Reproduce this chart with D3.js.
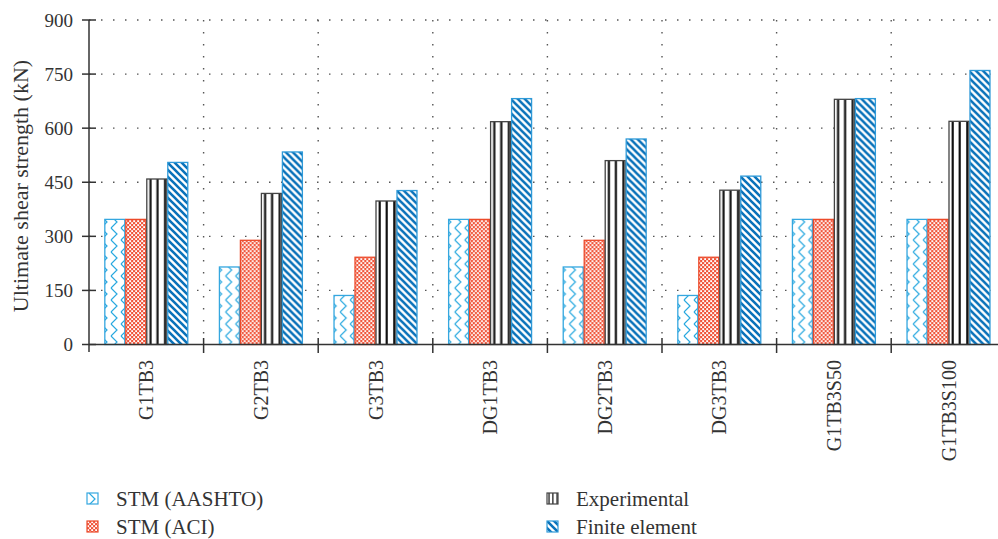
<!DOCTYPE html>
<html>
<head>
<meta charset="utf-8">
<script src="https://cdn.jsdelivr.net/npm/d3@7"></script>
<style>
  html, body { margin: 0; padding: 0; background: #fff; }
  svg { display: block; }
</style>
</head>
<body>
<script>
// Specimens and the four strength estimates (kN)
const categories = ["G1TB3", "G2TB3", "G3TB3", "DG1TB3", "DG2TB3", "DG3TB3", "G1TB3S50", "G1TB3S100"];
const seriesNames = ["STM (AASHTO)", "STM (ACI)", "Experimental", "Finite element"];
const stmAashto    = [347, 215, 136, 347, 215, 136, 347, 347];
const stmAci       = [347, 289, 242, 347, 289, 242, 347, 347];
const experimental = [459, 419, 398, 618, 510, 428, 680, 619];
const finiteElement = [505, 534, 427, 682, 570, 467, 682, 760];
const yTicks = [0, 150, 300, 450, 600, 750, 900];

const seriesValues = [stmAashto, stmAci, experimental, finiteElement];
const patternIds = ["pat-aashto", "pat-aci", "pat-exp", "pat-fe"];
const borderColors = ["#35a7df", "#ec4a2a", "#444", "#2f9ad8"];

const FONT = '"Liberation Serif", "Times New Roman", serif';
const TEXT = "#333";

const W = 998, H = 539;
const svg = d3.select("body").append("svg").attr("width", W).attr("height", H);

// ---- fill patterns ----
const defs = svg.append("defs");

// chevron hatching in light blue
const pA = defs.append("pattern").attr("id", "pat-aashto")
  .attr("patternUnits", "userSpaceOnUse").attr("width", 10).attr("height", 12);
pA.append("rect").attr("width", 10).attr("height", 12).attr("fill", "#fff");
pA.append("path").attr("d", "M2,0 L8,6 L2,12").attr("fill", "none")
  .attr("stroke", "#29a9e0").attr("stroke-width", 1.2);

// dense red check
const pB = defs.append("pattern").attr("id", "pat-aci")
  .attr("patternUnits", "userSpaceOnUse").attr("width", 4).attr("height", 4);
pB.append("rect").attr("width", 4).attr("height", 4).attr("fill", "#f0553a");
pB.append("rect").attr("x", 0.2).attr("y", 0.2).attr("width", 1.9).attr("height", 1.9).attr("fill", "#fff");
pB.append("rect").attr("x", 2.2).attr("y", 2.2).attr("width", 1.9).attr("height", 1.9).attr("fill", "#fff");

// vertical black bars inside white
const pC = defs.append("pattern").attr("id", "pat-exp")
  .attr("patternUnits", "objectBoundingBox").attr("patternContentUnits", "objectBoundingBox")
  .attr("width", 1).attr("height", 1);
pC.append("rect").attr("width", 1).attr("height", 1).attr("fill", "#fff");
[0.13, 0.48, 0.86].forEach(x => {
  pC.append("rect").attr("x", x).attr("y", 0).attr("width", 0.11).attr("height", 1).attr("fill", "#111");
});

// thick diagonal stripes in blue
const pD = defs.append("pattern").attr("id", "pat-fe")
  .attr("patternUnits", "userSpaceOnUse").attr("width", 7).attr("height", 7);
pD.append("rect").attr("width", 7).attr("height", 7).attr("fill", "#fff");
pD.append("path").attr("d", "M-1,-1 L8,8 M-1,6 L1,8 M6,-1 L8,1")
  .attr("stroke", "#0a72ba").attr("stroke-width", 2.6);

// ---- scales ----
const x0 = d3.scaleBand().domain(categories).range([89, 1005.8]).paddingInner(0).paddingOuter(0);
const x1 = d3.scaleBand().domain(d3.range(4)).range([0, x0.bandwidth()]).paddingInner(0).paddingOuter(0.73);
const y = d3.scaleLinear().domain([0, 900]).range([344.5, 20]);

const gridColor = "#555";

// horizontal dotted grid
svg.append("g").selectAll("line").data(yTicks.filter(d => d > 0)).join("line")
  .attr("x1", 89).attr("x2", W)
  .attr("y1", d => y(d)).attr("y2", d => y(d))
  .attr("stroke", gridColor).attr("stroke-width", 1.4)
  .attr("stroke-dasharray", "1.5,10.5");

// vertical dotted grid at category boundaries
const boundaries = categories.slice(1).map(c => x0(c));
svg.append("g").selectAll("line").data(boundaries).join("line")
  .attr("x1", d => d).attr("x2", d => d)
  .attr("y1", y(900)).attr("y2", y(0))
  .attr("stroke", gridColor).attr("stroke-width", 1.4)
  .attr("stroke-dasharray", "1.5,10.5");

// ---- bars ----
const rows = categories.map((c, i) => ({ c, vals: seriesValues.map(s => s[i]) }));
const groups = svg.append("g").selectAll("g").data(rows).join("g")
  .attr("transform", d => `translate(${x0(d.c)},0)`);
groups.selectAll("rect").data(d => d.vals.map((v, k) => ({ v, k }))).join("rect")
  .attr("x", d => x1(d.k) + 0.5)
  .attr("width", x1.bandwidth() - 1)
  .attr("y", d => y(d.v))
  .attr("height", d => y(0) - y(d.v))
  .attr("fill", d => `url(#${patternIds[d.k]})`)
  .attr("stroke", d => borderColors[d.k])
  .attr("stroke-width", 1.3);

// ---- axes ----
const axisColor = "#333";
svg.append("line").attr("x1", 89).attr("x2", 89).attr("y1", y(900)).attr("y2", 352)
  .attr("stroke", axisColor).attr("stroke-width", 1.5);
svg.append("line").attr("x1", 89).attr("x2", W).attr("y1", y(0)).attr("y2", y(0))
  .attr("stroke", axisColor).attr("stroke-width", 1.5);

// y ticks and labels
const yAxisG = svg.append("g");
yAxisG.selectAll("line").data(yTicks).join("line")
  .attr("x1", 82).attr("x2", 96)
  .attr("y1", d => y(d)).attr("y2", d => y(d))
  .attr("stroke", axisColor).attr("stroke-width", 1.5);
yAxisG.selectAll("text").data(yTicks).join("text")
  .attr("x", 73).attr("y", d => y(d))
  .attr("text-anchor", "end").attr("dominant-baseline", "central")
  .attr("font-size", 19)
  .style("font-family", FONT).attr("fill", TEXT)
  .text(d => d);

// x boundary ticks
svg.append("g").selectAll("line").data(boundaries).join("line")
  .attr("x1", d => d).attr("x2", d => d)
  .attr("y1", 338).attr("y2", 353)
  .attr("stroke", axisColor).attr("stroke-width", 1.5);

// category labels (rotated)
svg.append("g").selectAll("text").data(categories).join("text")
  .attr("transform", d => `translate(${x0(d) + x0.bandwidth() / 2},360) rotate(-90)`)
  .attr("text-anchor", "end").attr("dominant-baseline", "central")
  .attr("font-size", 20)
  .style("font-family", FONT).attr("fill", TEXT)
  .text(d => d);

// y axis title
svg.append("text")
  .attr("transform", `translate(20,186) rotate(-90)`)
  .attr("text-anchor", "middle").attr("dominant-baseline", "central")
  .attr("font-size", 22)
  .style("font-family", FONT).attr("fill", TEXT)
  .text("Ultimate shear strength (kN)");

// ---- legend ----
const legendPos = [
  { x: 87, y: 493 }, { x: 87, y: 521 },
  { x: 547, y: 493 }, { x: 547, y: 521 }
];
const legend = svg.append("g").selectAll("g").data(seriesNames).join("g")
  .attr("transform", (d, i) => `translate(${legendPos[i].x},${legendPos[i].y})`);
legend.append("rect")
  .attr("width", 11).attr("height", 11)
  .attr("fill", (d, i) => `url(#${patternIds[i]})`)
  .attr("stroke", (d, i) => borderColors[i]).attr("stroke-width", 1.2);
legend.append("text")
  .attr("x", 29)
  .attr("y", 6).attr("dominant-baseline", "central")
  .attr("font-size", 21)
  .style("font-family", FONT).attr("fill", TEXT)
  .text(d => d);
</script>
</body>
</html>
